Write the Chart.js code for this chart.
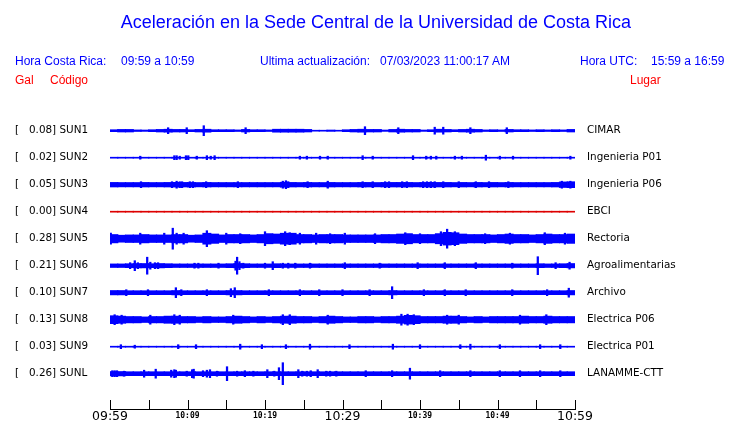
<!DOCTYPE html>
<html><head><meta charset="utf-8">
<script src="https://cdn.jsdelivr.net/npm/chart.js@4/dist/chart.umd.min.js"></script>
<style>
html,body{margin:0;padding:0;background:#fff;}
#wrap{position:relative;width:740px;height:423px;overflow:hidden;background:#fff;}
canvas{position:absolute;left:0;top:0;}
.t{position:absolute;font-family:"Liberation Sans",Arial,sans-serif;line-height:1;white-space:pre;font-size:12px;}
.b{color:#0000ff}.r{color:#ff0000}
</style></head>
<body><div id="wrap">
<canvas id="c" width="740" height="423"></canvas>
<div class="t b" style="left:6px;width:740px;text-align:center;top:13px;font-size:18px;">Aceleración en la Sede Central de la Universidad de Costa Rica</div>
<div class="t b" style="left:15px;top:55px;">Hora Costa Rica:</div>
<div class="t b" style="left:121px;top:55px;">09:59 a 10:59</div>
<div class="t b" style="left:260px;top:55px;">Ultima actualización:</div>
<div class="t b" style="left:380px;top:55px;">07/03/2023 11:00:17 AM</div>
<div class="t b" style="left:580px;top:55px;">Hora UTC:</div>
<div class="t b" style="left:651px;top:55px;">15:59 a 16:59</div>
<div class="t r" style="left:15px;top:74px;">Gal</div>
<div class="t r" style="left:50px;top:74px;">Código</div>
<div class="t r" style="left:630px;top:74px;">Lugar</div>
</div>
<script>
// ---------- DATA ----------
const stations = ['SUN1','SUN2','SUN3','SUN4','SUN5','SUN6','SUN7','SUN8','SUN9','SUNL'];
const peakGal  = [0.08, 0.02, 0.05, 0.00, 0.28, 0.21, 0.10, 0.13, 0.03, 0.26];
const places   = ['CIMAR','Ingenieria P01','Ingenieria P06','EBCI','Rectoria','Agroalimentarias','Archivo','Electrica P06','Electrica P01','LANAMME-CTT'];
const tickMinutes = [0, 10, 20, 30, 40, 50, 60];
const tickLabels  = ['09:59','10:09','10:19','10:29','10:39','10:49','10:59'];
const majorTicks  = ['09:59','10:29','10:59'];

// per-minute envelope (half amplitude) of each trace
const env_SUN1 = [1.0,1.3,1.3,0.8,0.7,1.0,1.3,1.5,1.3,1.3, 1.0,1.3,1.5,1.0,1.0,1.0,0.8,1.3,1.0,1.0, 0.8,1.5,1.5,1.5,1.5,1.3,0.5,0.5,0.7,0.5, 1.0,1.3,1.5,1.3,1.3,0.7,1.3,1.5,1.3,1.3, 0.7,1.0,1.5,1.3,1.0,1.3,1.5,1.3,0.8,1.0, 0.8,1.3,1.0,1.0,0.8,1.0,0.8,1.0,0.8,1.3];
const env_SUN2 = [0.5,0.5,0.5,0.5,0.5,0.5,0.5,0.5,0.5,0.5, 0.5,0.5,0.5,0.5,0.5,0.5,0.5,0.5,0.5,0.5, 0.5,0.5,0.5,0.5,0.5,0.5,0.5,0.5,0.5,0.5, 0.5,0.5,0.5,0.5,0.5,0.5,0.5,0.5,0.5,0.5, 0.5,0.5,0.5,0.5,0.5,0.5,0.5,0.5,0.5,0.5, 0.5,0.5,0.5,0.5,0.5,0.5,0.5,0.5,0.5,0.5];
const env_SUN3 = [2.3,2.2,2.2,2.2,2.3,2.2,2.2,2.3,2.4,2.3, 2.3,2.2,2.3,2.2,2.2,2.2,2.2,2.2,2.2,2.2, 2.2,2.2,2.5,2.3,2.2,2.3,2.2,2.2,2.3,2.2, 2.2,2.2,2.3,2.3,2.2,2.3,2.3,2.3,2.3,2.2, 2.3,2.4,2.3,2.3,2.2,2.3,2.2,2.3,2.2,2.3, 2.2,2.3,2.2,2.2,2.2,2.2,2.2,2.3,2.8,3.0];
const env_SUN4 = [0.5,0.5,0.5,0.5,0.5,0.5,0.5,0.5,0.5,0.5, 0.5,0.5,0.5,0.5,0.5,0.5,0.5,0.5,0.5,0.5, 0.5,0.5,0.5,0.5,0.5,0.5,0.5,0.5,0.5,0.5, 0.5,0.5,0.5,0.5,0.5,0.5,0.5,0.5,0.5,0.5, 0.5,0.5,0.5,0.5,0.5,0.5,0.5,0.5,0.5,0.5, 0.5,0.5,0.5,0.5,0.5,0.5,0.5,0.5,0.5,0.5];
const env_SUN5 = [4.2,3.5,3.8,3.8,4.2,3.8,3.8,3.8,4.2,4.2, 3.5,3.8,5.5,4.7,3.8,4.2,4.2,4.2,3.8,4.2, 5.1,4.7,5.5,5.5,4.2,4.2,3.8,4.2,4.2,4.2, 3.8,3.8,3.8,3.8,3.8,4.2,4.2,4.7,5.1,4.2, 4.2,4.2,5.1,6.4,6.0,4.7,4.2,4.2,4.2,3.8, 4.2,4.7,4.2,4.2,3.8,4.2,4.7,4.2,4.2,4.7];
const env_SUN6 = [1.8,1.8,2.0,2.2,2.2,2.0,2.2,2.0,1.8,1.8, 1.8,1.8,1.8,1.8,1.8,2.0,2.2,2.0,1.8,1.8, 1.8,2.0,1.8,1.8,1.8,1.8,1.8,1.8,1.8,1.8, 1.8,1.8,1.8,1.8,1.8,1.8,1.8,1.8,1.8,1.8, 1.8,1.8,1.8,1.8,1.8,1.8,1.8,1.8,1.8,1.8, 1.8,1.8,1.8,1.8,1.8,2.0,1.8,1.8,2.0,2.2];
const env_SUN7 = [2.2,2.2,2.0,2.0,2.0,2.0,2.0,2.0,2.2,2.0, 2.0,2.0,2.0,2.0,2.0,2.2,2.2,2.0,2.0,2.0, 2.0,2.0,2.0,2.0,2.0,2.0,2.0,2.0,2.0,2.0, 2.0,2.0,2.0,2.0,2.0,2.0,2.2,2.0,2.0,2.0, 2.0,2.0,2.0,2.0,2.0,2.0,2.0,2.0,2.0,2.0, 2.0,2.0,2.0,2.0,2.0,2.0,2.0,2.0,2.0,2.2];
const env_SUN8 = [4.0,3.6,3.2,3.2,2.8,3.2,3.2,3.6,3.6,3.2, 3.2,2.8,3.2,2.8,2.8,3.2,3.6,3.2,2.8,3.2, 2.8,3.2,3.6,3.6,3.2,3.2,2.8,3.2,3.6,3.2, 2.8,2.8,3.2,3.2,2.8,3.2,3.2,3.6,4.4,4.0, 3.2,3.2,3.2,3.6,3.6,3.2,2.8,3.2,2.8,3.2, 3.2,3.2,3.2,3.6,3.2,3.2,3.6,3.2,3.2,3.2];
const env_SUN9 = [0.5,0.5,0.5,0.5,0.5,0.5,0.5,0.5,0.5,0.5, 0.5,0.5,0.5,0.5,0.5,0.5,0.5,0.5,0.5,0.5, 0.5,0.5,0.5,0.5,0.5,0.5,0.5,0.5,0.5,0.5, 0.5,0.5,0.5,0.5,0.5,0.5,0.5,0.5,0.5,0.5, 0.5,0.5,0.5,0.5,0.5,0.5,0.5,0.5,0.5,0.5, 0.5,0.5,0.5,0.5,0.5,0.5,0.5,0.5,0.5,0.5];
const env_SUNL = [2.2,2.2,2.0,2.0,2.0,2.0,2.0,2.0,2.0,2.0, 2.0,2.0,2.0,2.0,2.0,2.0,2.0,2.0,2.0,2.0, 2.0,2.0,2.0,2.0,2.0,2.0,2.0,2.0,2.0,2.0, 2.0,2.0,2.0,2.0,2.0,2.0,2.0,2.0,2.0,2.0, 2.0,2.0,2.0,2.0,2.0,2.0,2.0,2.0,2.0,2.0, 2.0,2.0,2.0,2.0,2.0,2.0,2.0,2.0,2.0,2.0];

// isolated peaks: [minute, half amplitude]
const spk_SUN1 = [[7.5,3],[9.9,3],[12.1,5],[17.5,3],[32.9,4],[37.2,3],[41.9,3.5],[43.0,3.5],[46.5,3],[51.2,3]];
const spk_SUN2 = [[3.9,1.5],[8.3,2],[8.6,2],[9.0,1.5],[9.8,2],[10.1,2],[11.2,1.5],[12.5,2],[13.0,1.5],[13.5,2],[24.5,1.5],[25.4,1.5],[27.1,1.5],[28.1,1.5],[32.6,2],[33.9,1.5],[39.1,2],[40.8,1.5],[41.4,1.5],[42.1,1.5],[44.5,1.5],[45.4,1.5],[48.5,2.5],[50.3,1.5],[52.0,1.5],[59.4,1.5]];
const spk_SUN3 = [[4.0,3],[8.0,3],[8.6,3.5],[9.0,3],[9.3,3],[10.3,3],[10.7,3],[12.4,3],[16.5,3],[22.3,3.5],[22.7,4],[23.0,3],[25.5,3],[28.1,3.5],[32.6,3],[33.9,3],[35.5,3],[36.0,3],[37.7,3],[38.3,3],[40.4,3],[40.9,3],[41.4,3],[41.9,3],[43.0,3],[45.0,3],[47.2,3],[48.9,3],[51.4,3],[58.3,3.5],[59.4,3.5]];
const spk_SUN4 = [];
const spk_SUN5 = [[0.1,5.5],[3.9,5.5],[7.0,5.5],[8.1,10.5],[8.6,5.5],[9.5,5.5],[12.5,8],[15.0,5.5],[16.8,5],[20.0,7],[22.6,7],[23.2,6],[24.5,5.5],[26.6,5.5],[28.4,5],[30.3,5.5],[34.2,5],[38.1,6],[40.0,5],[42.7,7],[43.5,9.5],[44.5,7],[48.4,5],[51.6,5.5],[56.1,6],[58.7,5.5]];
const spk_SUN6 = [[2.6,3],[3.2,5],[3.6,3],[4.8,8.5],[5.2,3.5],[5.8,3],[6.2,3],[10.9,2.5],[11.4,2.5],[14.0,2.5],[16.2,4.5],[16.4,8.5],[16.7,4],[17.2,2.5],[20.0,2.5],[21.0,4],[22.3,2.5],[23.0,2.5],[23.9,2.5],[25.8,2.5],[30.3,3],[34.8,2.5],[39.7,3],[43.2,3],[47.2,3],[51.9,2.5],[55.2,9],[57.5,3],[59.3,3.5]];
const spk_SUN7 = [[2.1,3],[4.9,3],[8.5,5],[9.2,3],[12.5,3],[15.6,4],[16.1,5],[20.5,3],[24.5,3],[27.0,3],[30.0,3],[33.5,3],[36.4,6],[40.5,3],[43.2,3],[45.9,3],[51.9,3],[56.4,3],[59.2,4.5]];
const spk_SUN8 = [[0.6,5],[1.5,4.5],[5.2,4.5],[8.3,5],[9.0,4.5],[15.9,4.5],[22.3,5],[23.2,5],[28.1,4.5],[37.6,5.5],[38.4,5.5],[39.2,5],[43.5,4.5],[45.0,4.5],[52.9,4.5],[56.3,5]];
const spk_SUN9 = [[1.4,2],[3.2,1.5],[8.8,2],[11.1,2],[16.8,2.5],[19.6,2],[22.7,2],[25.8,2.5],[30.9,2],[36.5,2.5],[40.0,2],[45.2,2],[46.5,2.5],[50.3,2],[55.5,2],[58.1,2]];
const spk_SUNL = [[0.3,3],[0.6,3],[0.9,3],[1.8,2.5],[4.4,3.5],[5.9,4.5],[7.9,3.5],[8.3,4],[8.5,3.5],[9.9,2.5],[10.6,4],[10.8,4.5],[12.0,3],[12.5,3.5],[12.9,4],[13.8,2.5],[15.1,7],[16.4,2.5],[17.4,3],[18.5,2.5],[20.3,4],[21.2,2.5],[21.8,6],[22.3,11],[24.3,4],[24.8,2.5],[25.4,2.5],[25.9,3],[26.8,4],[27.9,2.5],[28.4,2.5],[29.2,2.5],[33.0,3],[36.4,3],[38.7,5.5],[42.6,3],[46.5,3],[50.3,3],[52.9,3],[55.5,3],[58.1,3]];

const envelopes = [env_SUN1,env_SUN2,env_SUN3,env_SUN4,env_SUN5,env_SUN6,env_SUN7,env_SUN8,env_SUN9,env_SUNL];
const peaks     = [spk_SUN1,spk_SUN2,spk_SUN3,spk_SUN4,spk_SUN5,spk_SUN6,spk_SUN7,spk_SUN8,spk_SUN9,spk_SUNL];

// ---------- STYLE / LAYOUT ----------
const SPACING = 27;
const BLUE = '#0000ff', RED = '#dd0000';

const datasets = [];
stations.forEach((s, i) => {
  const c = i * SPACING;
  const col = peakGal[i] === 0 ? RED : BLUE;
  datasets.push({
    label: s + ' env',
    data: envelopes[i].map((e, m) => ({x: m + 0.5, y: [c - e, c + e]})),
    backgroundColor: col, borderWidth: 0, borderSkipped: false,
    barThickness: 8.3, grouped: false, yAxisID: 'y'
  });
  datasets.push({
    label: s + ' peaks',
    data: peaks[i].map(([t, a]) => ({x: t, y: [c - a, c + a]})),
    backgroundColor: col, borderWidth: 0, borderSkipped: false,
    barThickness: 1.6, grouped: false, yAxisID: 'y'
  });
});

const yMin = -30.7, yMax = (stations.length - 1) * SPACING + 35.3;
const stationTicks = (s) => { s.ticks = stations.map((_, i) => ({value: i * SPACING})); };
const noPad = (w) => (s) => { s.width = w; s.paddingTop = 0; s.paddingBottom = 0; };

const upTicks = {
  id: 'upTicks',
  afterDraw(chart) {
    const sx = chart.scales.x, ctx = chart.ctx, b = chart.chartArea.bottom;
    ctx.save();
    ctx.strokeStyle = '#000'; ctx.lineWidth = 1;
    sx.ticks.forEach(t => {
      const px = Math.round(sx.getPixelForValue(t.value)) + 0.5;
      ctx.beginPath(); ctx.moveTo(px, b); ctx.lineTo(px, b - 9); ctx.stroke();
    });
    ctx.restore();
  }
};

new Chart(document.getElementById('c'), {
  type: 'bar',
  data: {datasets},
  plugins: [upTicks],
  options: {
    responsive: false, animation: false, devicePixelRatio: 1,
    layout: {padding: {top: 100, left: 15, right: 0, bottom: 0}},
    plugins: {legend: {display: false}, tooltip: {enabled: false}, title: {display: false}},
    scales: {
      x: {
        type: 'linear', min: 0, max: 60, offset: false, position: 'bottom',
        grid: {display: false, drawTicks: false},
        border: {display: true, color: '#000', width: 1},
        ticks: {
          stepSize: 5, autoSkip: false, maxRotation: 0, minRotation: 0, padding: 0, color: '#000',
          callback: (v) => { const k = tickMinutes.indexOf(v); return k >= 0 ? tickLabels[k] : ''; },
          font: (ctx) => {
            const k = tickMinutes.indexOf(ctx.tick ? ctx.tick.value : -1);
            const lab = k >= 0 ? tickLabels[k] : '';
            return majorTicks.includes(lab)
              ? {family: 'DejaVu Sans', size: 12.5, lineHeight: 1.2}
              : {family: 'DejaVu Sans Mono', size: 8, weight: 'bold', lineHeight: 1.7};
          }
        },
        afterFit: (s) => { s.height = 14; s.paddingLeft = 0; s.paddingRight = 0; }
      },
      y: {
        type: 'linear', reverse: true, min: yMin, max: yMax, position: 'left',
        grid: {display: false, drawTicks: false}, border: {display: false},
        afterBuildTicks: stationTicks,
        ticks: {
          crossAlign: 'far', padding: 0, color: '#000', autoSkip: false,
          font: {family: 'DejaVu Sans', size: 10.4},
          callback: (v, i) => '[   ' + peakGal[i].toFixed(2) + '] ' + stations[i]
        },
        afterFit: noPad(95)
      },
      y2: {
        type: 'linear', reverse: true, min: yMin, max: yMax, position: 'right',
        grid: {display: false, drawTicks: false}, border: {display: false},
        afterBuildTicks: stationTicks,
        ticks: {
          crossAlign: 'near', padding: 12, color: '#000', autoSkip: false,
          font: {family: 'DejaVu Sans', size: 10.4},
          callback: (v, i) => places[i]
        },
        afterFit: noPad(165)
      }
    }
  }
});
</script>
</body></html>
